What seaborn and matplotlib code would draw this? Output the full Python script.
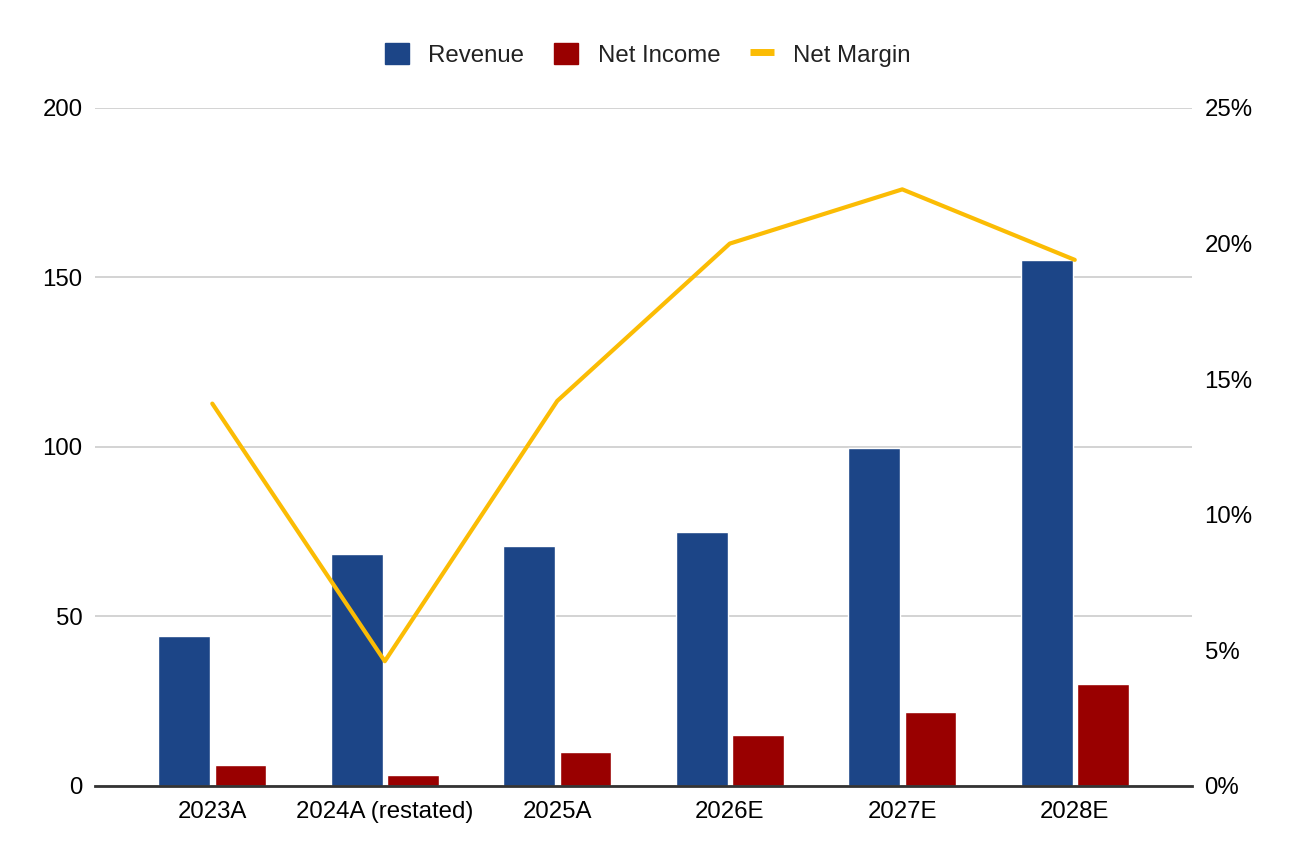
import matplotlib
matplotlib.use("Agg")
import matplotlib.pyplot as plt
import seaborn as sns
import pandas as pd
import numpy as np
from matplotlib.patches import Patch
from matplotlib.lines import Line2D
from matplotlib.ticker import FuncFormatter

categories = ["2023A", "2024A (restated)", "2025A", "2026E", "2027E", "2028E"]
revenue = [44.2, 68.4, 70.8, 74.9, 99.7, 155.2]
net_income = [6.2, 3.2, 10.0, 15.0, 21.9, 30.1]
net_margin = [14.1, 4.6, 14.2, 20.0, 22.0, 19.4]

left_ticks = [0, 50, 100, 150, 200]
right_ticks = [0, 5, 10, 15, 20, 25]

C_REV = "#1c4587"
C_NI = "#990000"
C_NM = "#fbbc04"

sns.set_theme(style="white")
plt.rcParams['font.family'] = ['Liberation Sans', 'DejaVu Sans']

FS = 17.3

df = pd.DataFrame({
    "Category": categories * 2,
    "Value": revenue + net_income,
    "Series": ["Revenue"] * len(categories) + ["Net Income"] * len(categories),
})

fig = plt.figure(figsize=(12.96, 8.66), dpi=100)
ax = fig.add_axes([0.0733, 0.0924, 0.8465, 0.7829])

sns.barplot(data=df, x="Category", y="Value", hue="Series", order=categories,
            hue_order=["Revenue", "Net Income"],
            palette={"Revenue": C_REV, "Net Income": C_NI},
            width=0.65, gap=0.08, ax=ax, legend=False, saturation=1)

ax.set_ylim(0, 200)
ax.set_yticks(left_ticks)
ax.set_xlim(-0.68, 5.68)
ax.grid(axis="y", color="#cccccc", linewidth=1.2)
ax.set_axisbelow(True)
ax.set_xlabel("")
ax.set_ylabel("")
for s in ["top", "left", "right"]:
    ax.spines[s].set_visible(False)
ax.spines["bottom"].set_color("#333333")
ax.spines["bottom"].set_linewidth(2)
ax.tick_params(axis="both", length=0, labelsize=FS, colors="#000000")
ax.tick_params(axis="x", pad=10.5)
ax.tick_params(axis="y", pad=9)

ax2 = ax.twinx()
sns.lineplot(x=np.arange(len(categories)), y=net_margin, ax=ax2, color=C_NM,
             linewidth=3, legend=False)
ax2.set_ylim(0, 25)
ax2.set_yticks(right_ticks)
ax2.yaxis.set_major_formatter(FuncFormatter(lambda v, p: f"{int(v)}%"))
ax2.set_xlim(-0.68, 5.68)
for s in ["top", "left", "right", "bottom"]:
    ax2.spines[s].set_visible(False)
ax2.tick_params(axis="y", length=0, labelsize=FS, pad=9, colors="#000000")
ax2.grid(False)
ax2.set_ylabel("")

handles = [
    Patch(facecolor=C_REV, edgecolor=C_REV),
    Patch(facecolor=C_NI, edgecolor=C_NI),
    Line2D([0], [0], color=C_NM, linewidth=5, solid_capstyle="butt"),
]
fig.legend(handles, ["Revenue", "Net Income", "Net Margin"], loc="center",
           bbox_to_anchor=(0.5, 0.937), ncol=3, frameon=False, fontsize=FS,
           handlelength=1.0, handleheight=1.0, handletextpad=0.8, columnspacing=1.25,
           labelcolor="#222222")

fig.savefig("out.png", dpi=100)
